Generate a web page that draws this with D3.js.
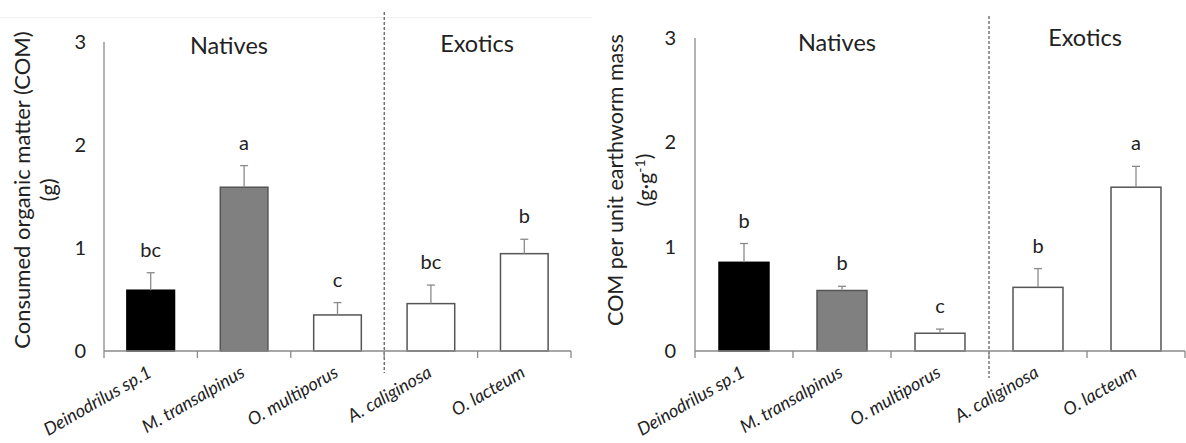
<!DOCTYPE html>
<html>
<head>
<meta charset="utf-8">
<script src="https://cdn.jsdelivr.net/npm/d3@7"></script>
<style>
  html, body { margin: 0; padding: 0; background: #fff; }
  svg { display: block; }
  text { font-family: Lato, "Open Sans", sans-serif; fill: #222; }
</style>
</head>
<body>
<svg id="chart" width="1186" height="443"></svg>
<script>
// ---------- data ----------
const categories = ["Deinodrilus sp.1", "M. transalpinus", "O. multiporus", "A. caliginosa", "O. lacteum"];
const groupLabels = ["Natives", "Exotics"];
const nativeCount = 3;
const barColors = ["#000000", "#808080", "#ffffff", "#ffffff", "#ffffff"];
const yTicks = [0, 1, 2, 3];

const comMeans   = [0.59, 1.59, 0.35, 0.46, 0.945];
const comErrors  = [0.17, 0.21, 0.12, 0.18, 0.14];
const comLetters = ["bc", "a", "c", "bc", "b"];

const unitMeans   = [0.85, 0.58, 0.17, 0.61, 1.57];
const unitErrors  = [0.18, 0.04, 0.04, 0.18, 0.20];
const unitLetters = ["b", "b", "c", "b", "a"];

// ---------- layout ----------
const svg = d3.select("#chart");

// faint frame line at top of left panel
svg.append("line").attr("x1", 0).attr("x2", 592).attr("y1", 17.5).attr("y2", 17.5)
  .attr("stroke", "#f0f0f0").attr("stroke-width", 1);

const panels = [
  {
    means: comMeans, errors: comErrors, letters: comLetters,
    xRange: [104, 571], yRange: [351, 42], tickX: 86,
    title: [{ text: "Consumed organic matter (COM)", x: 22 }, { text: "(g)", x: 48 }],
    titleY: 190, titleSize: 22,
    groupPos: [{ x: 229, y: 54 }, { x: 477, y: 52 }],
    dash: [12, 373]
  },
  {
    means: unitMeans, errors: unitErrors, letters: unitLetters,
    xRange: [695, 1185], yRange: [351, 38], tickX: 676,
    title: [{ text: "COM per unit earthworm mass", x: 615 }, { text: "(g·g", sup: "-1", tail: ")", x: 645 }],
    titleY: 180, titleSize: 21.5,
    groupPos: [{ x: 837, y: 51 }, { x: 1085, y: 46 }],
    dash: [16, 378]
  }
];

panels.forEach(p => {
  const g = svg.append("g");
  const x = d3.scaleBand().domain(categories).range(p.xRange).padding(0);
  const y = d3.scaleLinear().domain([0, 3]).range(p.yRange);
  const step = x.step();
  const bw = step * 0.51;
  const cx = c => x(c) + step / 2;

  // y axis line
  g.append("line").attr("x1", p.xRange[0]).attr("x2", p.xRange[0])
    .attr("y1", y(3)).attr("y2", y(0)).attr("stroke", "#8a8a8a").attr("stroke-width", 1.3);
  // y tick labels
  g.selectAll(".ytl").data(yTicks).join("text")
    .attr("x", p.tickX).attr("y", d => y(d)).attr("dy", "0.35em")
    .attr("text-anchor", "end").attr("font-size", 20).text(d => d);

  // dashed separator
  const sepX = x(categories[nativeCount]);
  g.append("line").attr("x1", sepX).attr("x2", sepX)
    .attr("y1", p.dash[0]).attr("y2", p.dash[1])
    .attr("stroke", "#333").attr("stroke-width", 1).attr("stroke-dasharray", "3,2");

  // bars
  g.selectAll(".bar").data(categories).join("rect")
    .attr("x", d => cx(d) - bw / 2).attr("width", bw)
    .attr("y", (d, i) => y(p.means[i])).attr("height", (d, i) => y(0) - y(p.means[i]))
    .attr("fill", (d, i) => barColors[i])
    .attr("stroke", (d, i) => i === 0 ? "#000" : "#555").attr("stroke-width", 1.5);

  // error bars
  categories.forEach((c, i) => {
    const top = y(p.means[i] + p.errors[i]);
    g.append("line").attr("x1", cx(c)).attr("x2", cx(c))
      .attr("y1", y(p.means[i])).attr("y2", top).attr("stroke", "#8a8a8a").attr("stroke-width", 1.3);
    g.append("line").attr("x1", cx(c) - 4).attr("x2", cx(c) + 4)
      .attr("y1", top).attr("y2", top).attr("stroke", "#8a8a8a").attr("stroke-width", 1.3);
    g.append("text").attr("x", cx(c)).attr("y", top - 16)
      .attr("text-anchor", "middle").attr("font-size", 20).text(p.letters[i]);
  });

  // x axis line and boundary ticks
  g.append("line").attr("x1", p.xRange[0]).attr("x2", p.xRange[1])
    .attr("y1", y(0)).attr("y2", y(0)).attr("stroke", "#8a8a8a").attr("stroke-width", 1.3);
  const bounds = categories.map(c => x(c)).concat([p.xRange[1]]);
  g.selectAll(".xt").data(bounds).join("line")
    .attr("x1", d => d).attr("x2", d => d).attr("y1", y(0)).attr("y2", y(0) + 7)
    .attr("stroke", "#8a8a8a").attr("stroke-width", 1.3);

  // category labels (rotated)
  g.selectAll(".xl").data(categories).join("text")
    .attr("transform", d => `translate(${cx(d) + 2},${y(0) + 25}) rotate(-30)`)
    .attr("text-anchor", "end").attr("font-size", 18).attr("font-style", "italic")
    .text(d => d);

  // group labels
  groupLabels.forEach((lab, i) => {
    g.append("text").attr("x", p.groupPos[i].x).attr("y", p.groupPos[i].y)
      .attr("text-anchor", "middle").attr("font-size", 23.5).text(lab);
  });

  // y title
  p.title.forEach(t => {
    const tt = g.append("text")
      .attr("transform", `translate(${t.x},${p.titleY}) rotate(-90)`)
      .attr("text-anchor", "middle").attr("dy", "0.35em").attr("font-size", p.titleSize);
    tt.append("tspan").text(t.text);
    if (t.sup) {
      tt.append("tspan").attr("font-size", 14).attr("dy", "-0.55em").text(t.sup);
      tt.append("tspan").attr("dy", "0.35em").text(t.tail);
    }
  });
});
</script>
</body>
</html>
